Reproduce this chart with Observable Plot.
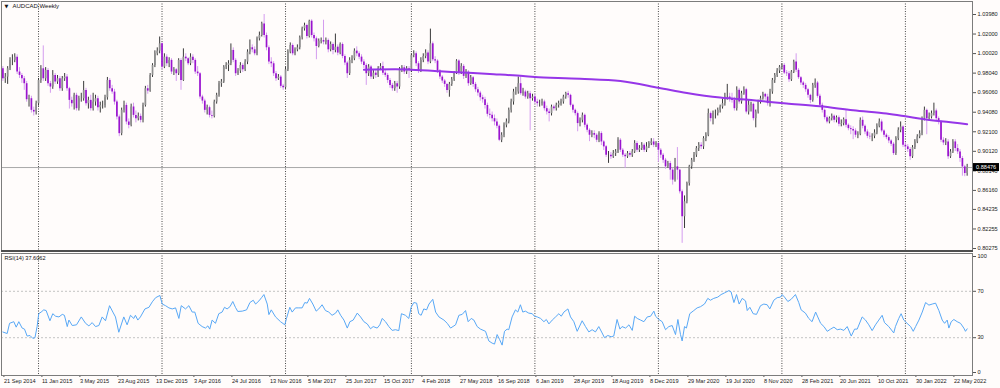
<!DOCTYPE html>
<html><head><meta charset="utf-8">
<script src="https://cdn.jsdelivr.net/npm/d3@7"></script>
<script src="https://cdn.jsdelivr.net/npm/@observablehq/plot@0.6"></script>
<style>
html,body{margin:0;padding:0;background:#fffcfb;}
#chart{position:relative;width:1000px;height:388px;overflow:hidden;background:#fffcfb;}
#chart svg{position:absolute;left:0;display:block;}
#sep{position:absolute;left:1px;top:250px;width:972px;height:2px;background:#4e4e4e;}
</style></head><body><div id="chart"></div>
<script>
// ---------- data (weekly AUDCAD, 21 Sep 2014 .. 2022) ----------
const symbolTitle = "AUDCAD,Weekly";
const rsiTitle = "RSI(14) 37.6062";
const firstOpen = 0.9848;
const closes = [
0.9747,0.9764,0.9848,0.9933,0.9933,0.9966,0.9815,0.9781,0.9747,0.9697,
0.9535,0.9545,0.9427,0.9410,0.9494,0.9730,0.9848,0.9747,0.9831,0.9697,
0.9663,0.9781,0.9714,0.9747,0.9646,0.9747,0.9764,0.9646,0.9528,0.9494,
0.9579,0.9444,0.9545,0.9545,0.9629,0.9494,0.9528,0.9444,0.9511,0.9545,
0.9454,0.9477,0.9477,0.9555,0.9730,0.9646,0.9612,0.9511,0.9360,0.9191,
0.9427,0.9477,0.9309,0.9275,0.9461,0.9376,0.9343,0.9366,0.9326,0.9477,
0.9646,0.9622,0.9781,0.9882,1.0000,1.0027,1.0101,0.9865,0.9966,0.9899,
0.9933,0.9815,0.9838,0.9798,0.9933,0.9730,0.9966,0.9949,0.9899,0.9966,
0.9933,0.9815,0.9798,0.9562,0.9521,0.9427,0.9454,0.9376,0.9366,0.9511,
0.9579,0.9697,0.9714,0.9865,0.9882,0.9899,1.0034,0.9933,0.9798,0.9825,
0.9882,0.9838,0.9916,1.0017,1.0061,1.0040,1.0000,1.0152,1.0185,1.0303,
1.0185,1.0061,0.9916,0.9899,0.9798,0.9747,0.9764,0.9670,0.9656,0.9838,
1.0017,1.0084,1.0000,1.0040,1.0061,1.0162,1.0253,1.0286,1.0175,1.0330,
1.0185,1.0152,1.0074,1.0128,1.0135,1.0118,1.0135,1.0040,1.0094,1.0034,
1.0067,1.0007,1.0094,0.9973,0.9906,0.9798,0.9933,0.9949,1.0027,1.0000,
0.9966,0.9916,0.9882,0.9798,0.9865,0.9764,0.9804,0.9781,0.9848,0.9872,
0.9804,0.9781,0.9730,0.9680,0.9646,0.9697,0.9663,0.9838,0.9858,0.9815,
0.9848,0.9831,0.9983,1.0000,0.9899,0.9831,0.9933,0.9973,1.0007,0.9916,
1.0101,0.9939,0.9926,0.9825,0.9764,0.9724,0.9690,0.9629,0.9690,0.9737,
0.9804,0.9926,0.9804,0.9872,0.9771,0.9815,0.9697,0.9757,0.9690,0.9636,
0.9602,0.9555,0.9535,0.9477,0.9387,0.9377,0.9343,0.9310,0.9266,0.9124,
0.9175,0.9276,0.9310,0.9428,0.9512,0.9613,0.9613,0.9697,0.9596,0.9613,
0.9562,0.9596,0.9545,0.9562,0.9512,0.9495,0.9495,0.9512,0.9444,0.9411,
0.9394,0.9461,0.9444,0.9478,0.9495,0.9512,0.9562,0.9596,0.9579,0.9478,
0.9428,0.9394,0.9293,0.9326,0.9377,0.9276,0.9225,0.9175,0.9192,0.9175,
0.9124,0.9192,0.9107,0.9057,0.8973,0.8973,0.8956,0.8989,0.9006,0.9124,
0.9023,0.8973,0.8956,0.8989,0.8973,0.9006,0.9091,0.9023,0.9040,0.9074,
0.9023,0.9057,0.9091,0.9107,0.9074,0.9091,0.9023,0.8973,0.8922,0.8855,
0.8888,0.8821,0.8720,0.8855,0.8821,0.8602,0.8349,0.8501,0.8686,0.8855,
0.8922,0.8973,0.9040,0.9074,0.9057,0.9141,0.9175,0.9394,0.9343,0.9394,
0.9394,0.9428,0.9461,0.9495,0.9562,0.9562,0.9545,0.9528,0.9444,0.9630,
0.9512,0.9596,0.9636,0.9410,0.9478,0.9488,0.9343,0.9410,0.9512,0.9545,
0.9589,0.9562,0.9495,0.9613,0.9731,0.9781,0.9825,0.9865,0.9882,0.9805,
0.9798,0.9737,0.9815,0.9916,0.9832,0.9758,0.9704,0.9680,0.9636,0.9579,
0.9528,0.9680,0.9704,0.9569,0.9478,0.9427,0.9353,0.9309,0.9343,0.9367,
0.9326,0.9353,0.9286,0.9293,0.9333,0.9276,0.9242,0.9232,0.9218,0.9175,
0.9185,0.9326,0.9266,0.9208,0.9164,0.9158,0.9164,0.9198,0.9266,0.9309,
0.9218,0.9175,0.9151,0.9117,0.9084,0.8989,0.9141,0.9225,0.9259,0.9073,
0.9057,0.9030,0.8956,0.9050,0.9107,0.9158,0.9191,0.9343,0.9427,0.9343,
0.9360,0.9394,0.9421,0.9343,0.9309,0.9124,0.9097,0.9107,0.8956,0.9006,
0.9107,0.9040,0.9006,0.8939,0.8854,0.8787,0.88476];
const highs = [
0.9870,0.9800,0.9870,0.9960,0.9990,1.0000,0.9990,0.9860,0.9800,0.9770,
0.9720,0.9580,0.9570,0.9460,0.9520,0.9750,0.9880,1.0080,0.9860,0.9850,
0.9720,0.9830,0.9800,0.9780,0.9770,0.9770,0.9800,0.9790,0.9660,0.9560,
0.9600,0.9600,0.9570,0.9600,0.9720,0.9650,0.9560,0.9580,0.9600,0.9580,
0.9570,0.9510,0.9520,0.9580,0.9760,0.9750,0.9680,0.9640,0.9530,0.9380,
0.9450,0.9520,0.9500,0.9340,0.9490,0.9500,0.9420,0.9400,0.9390,0.9500,
0.9670,0.9680,0.9800,0.9900,1.0030,1.0060,1.0170,1.0110,1.0000,0.9990,
0.9960,0.9950,0.9860,0.9850,0.9950,0.9950,1.0050,1.0000,0.9960,1.0000,
0.9990,0.9950,0.9870,0.9810,0.9580,0.9540,0.9480,0.9470,0.9420,0.9530,
0.9600,0.9720,0.9740,0.9880,0.9910,0.9930,1.0100,1.0060,0.9950,0.9850,
0.9910,0.9900,0.9940,1.0040,1.0140,1.0090,1.0070,1.0170,1.0220,1.0320,
1.0398,1.0210,1.0080,0.9960,0.9920,0.9820,0.9790,0.9780,0.9690,0.9860,
1.0040,1.0110,1.0100,1.0060,1.0090,1.0180,1.0270,1.0310,1.0300,1.0340,
1.0345,1.0210,1.0170,1.0150,1.0160,1.0340,1.0160,1.0150,1.0120,1.0110,
1.0200,1.0090,1.0110,1.0110,0.9990,0.9920,0.9960,0.9980,1.0050,1.0070,
1.0020,0.9990,0.9940,0.9900,0.9890,0.9880,0.9830,0.9830,0.9870,0.9900,
0.9916,0.9830,0.9800,0.9750,0.9700,0.9720,0.9720,0.9860,0.9880,0.9880,
0.9870,0.9870,1.0000,1.0030,1.0020,0.9920,0.9960,1.0000,1.0040,1.0030,
1.0250,1.0120,0.9970,0.9940,0.9840,0.9780,0.9740,0.9700,0.9710,0.9760,
0.9820,0.9940,0.9940,0.9900,0.9890,0.9840,0.9830,0.9780,0.9770,0.9710,
0.9660,0.9620,0.9580,0.9560,0.9500,0.9440,0.9410,0.9380,0.9340,0.9280,
0.9200,0.9300,0.9340,0.9450,0.9540,0.9640,0.9660,0.9765,0.9780,0.9650,
0.9630,0.9620,0.9620,0.9590,0.9590,0.9540,0.9530,0.9540,0.9530,0.9470,
0.9440,0.9480,0.9480,0.9500,0.9520,0.9540,0.9580,0.9610,0.9620,0.9590,
0.9490,0.9440,0.9410,0.9350,0.9400,0.9390,0.9290,0.9240,0.9220,0.9220,
0.9190,0.9210,0.9210,0.9120,0.9070,0.9010,0.9000,0.9020,0.9030,0.9150,
0.9140,0.9040,0.8990,0.9010,0.9010,0.9030,0.9120,0.9110,0.9070,0.9100,
0.9090,0.9100,0.9110,0.9140,0.9140,0.9110,0.9100,0.9040,0.8990,0.8940,
0.8910,0.8910,0.8840,0.8940,0.9050,0.8830,0.8620,0.8560,0.8700,0.8870,
0.8940,0.9000,0.9060,0.9100,0.9100,0.9160,0.9200,0.9440,0.9410,0.9420,
0.9430,0.9450,0.9480,0.9540,0.9600,0.9690,0.9600,0.9600,0.9560,0.9665,
0.9650,0.9620,0.9665,0.9650,0.9530,0.9510,0.9500,0.9430,0.9530,0.9570,
0.9610,0.9600,0.9590,0.9640,0.9750,0.9800,0.9850,0.9880,0.9900,0.9900,
0.9830,0.9820,0.9830,0.9935,1.0000,0.9850,0.9770,0.9720,0.9700,0.9650,
0.9590,0.9700,0.9745,0.9720,0.9590,0.9500,0.9440,0.9370,0.9360,0.9390,
0.9380,0.9370,0.9370,0.9330,0.9350,0.9430,0.9290,0.9270,0.9260,0.9240,
0.9210,0.9350,0.9360,0.9280,0.9230,0.9200,0.9190,0.9230,0.9290,0.9340,
0.9330,0.9230,0.9190,0.9170,0.9130,0.9100,0.9160,0.9250,0.9310,0.9270,
0.9100,0.9080,0.9050,0.9070,0.9130,0.9180,0.9220,0.9360,0.9460,0.9440,
0.9400,0.9420,0.9500,0.9440,0.9360,0.9320,0.9150,0.9140,0.9130,0.9030,
0.9130,0.9130,0.9080,0.9030,0.8960,0.8870,0.8880];
const lows = [
0.9720,0.9700,0.9690,0.9830,0.9880,0.9910,0.9790,0.9750,0.9700,0.9630,
0.9510,0.9460,0.9400,0.9370,0.9380,0.9470,0.9700,0.9720,0.9720,0.9670,
0.9600,0.9640,0.9690,0.9690,0.9620,0.9620,0.9720,0.9620,0.9440,0.9460,
0.9430,0.9420,0.9420,0.9510,0.9520,0.9470,0.9440,0.9420,0.9420,0.9470,
0.9420,0.9400,0.9440,0.9450,0.9530,0.9620,0.9590,0.9480,0.9330,0.9160,
0.9170,0.9400,0.9280,0.9240,0.9260,0.9350,0.9300,0.9320,0.9300,0.9300,
0.9460,0.9590,0.9610,0.9760,0.9860,0.9980,1.0000,0.9840,0.9850,0.9870,
0.9860,0.9790,0.9780,0.9720,0.9780,0.9630,0.9720,0.9920,0.9880,0.9880,
0.9900,0.9790,0.9770,0.9540,0.9490,0.9400,0.9380,0.9350,0.9340,0.9350,
0.9490,0.9560,0.9660,0.9700,0.9840,0.9820,0.9880,0.9910,0.9770,0.9780,
0.9800,0.9810,0.9820,0.9890,0.9990,1.0010,0.9980,0.9980,1.0130,1.0170,
1.0160,1.0030,0.9890,0.9860,0.9770,0.9720,0.9730,0.9650,0.9630,0.9640,
0.9820,1.0000,0.9980,0.9980,1.0020,1.0040,1.0140,1.0230,1.0150,1.0160,
1.0160,1.0120,0.9940,1.0060,1.0100,1.0090,1.0090,1.0010,1.0020,0.9990,
1.0010,0.9980,0.9990,0.9950,0.9880,0.9750,0.9780,0.9900,0.9930,0.9970,
0.9940,0.9890,0.9850,0.9680,0.9770,0.9740,0.9740,0.9750,0.9760,0.9830,
0.9780,0.9760,0.9700,0.9650,0.9620,0.9620,0.9600,0.9640,0.9810,0.9790,
0.9790,0.9750,0.9810,0.9960,0.9870,0.9800,0.9810,0.9910,0.9950,0.9890,
0.9900,0.9920,0.9900,0.9800,0.9740,0.9700,0.9660,0.9600,0.9560,0.9670,
0.9720,0.9790,0.9780,0.9790,0.9740,0.9750,0.9670,0.9680,0.9660,0.9610,
0.9570,0.9520,0.9500,0.9440,0.9360,0.9340,0.9310,0.9270,0.9240,0.9110,
0.9100,0.9150,0.9250,0.9290,0.9400,0.9480,0.9580,0.9590,0.9580,0.9570,
0.9540,0.9540,0.9220,0.9520,0.9490,0.9460,0.9460,0.9470,0.9420,0.9380,
0.9310,0.9370,0.9420,0.9420,0.9450,0.9470,0.9490,0.9540,0.9550,0.9460,
0.9400,0.9370,0.9210,0.9260,0.9300,0.9250,0.9200,0.9110,0.9150,0.9140,
0.9100,0.9100,0.9070,0.9020,0.8950,0.8890,0.8930,0.8940,0.8960,0.8990,
0.9000,0.8950,0.8840,0.8940,0.8950,0.8950,0.8990,0.9000,0.9000,0.9020,
0.9000,0.9000,0.9040,0.9070,0.9050,0.9050,0.8900,0.8940,0.8890,0.8830,
0.8840,0.8720,0.8670,0.8700,0.8720,0.8580,0.8080,0.8230,0.8480,0.8660,
0.8830,0.8900,0.8950,0.9010,0.9030,0.9030,0.9110,0.9160,0.9310,0.9280,
0.9340,0.9370,0.9400,0.9440,0.9470,0.9530,0.9510,0.9500,0.9420,0.9420,
0.9490,0.9490,0.9580,0.9390,0.9380,0.9410,0.9320,0.9250,0.9390,0.9490,
0.9530,0.9530,0.9470,0.9460,0.9590,0.9700,0.9760,0.9800,0.9840,0.9790,
0.9770,0.9710,0.9720,0.9800,0.9810,0.9740,0.9680,0.9650,0.9610,0.9550,
0.9495,0.9510,0.9650,0.9550,0.9460,0.9400,0.9330,0.9290,0.9290,0.9320,
0.9300,0.9300,0.9260,0.9260,0.9270,0.9250,0.9220,0.9180,0.9130,0.9150,
0.9140,0.9170,0.9240,0.9180,0.9140,0.9130,0.9110,0.9140,0.9180,0.9250,
0.9200,0.9150,0.9130,0.9090,0.9060,0.8970,0.8970,0.9120,0.9200,0.9050,
0.9030,0.9000,0.8920,0.8940,0.9030,0.9090,0.9140,0.9170,0.9320,0.9180,
0.9320,0.9340,0.9370,0.9320,0.9280,0.9100,0.9070,0.9070,0.8930,0.8940,
0.8990,0.9010,0.8980,0.8900,0.8760,0.8755,0.8760];
// long moving average (read points: bar index, value)
const maBar   = [152,170,184,198,205,219,224,243,260,276,288,302,316,323,330,344,358,372,380,388,406];
const maValue = [0.9839,0.9842,0.9822,0.9805,0.9795,0.9775,0.9764,0.9747,0.9724,0.9657,0.9603,0.9556,0.9529,0.9512,0.9496,0.9468,0.9428,0.9395,0.9367,0.9336,0.9287];
// RSI(14) read vertices (bar position, value)
const rsiBar = [0,1.8,2.8,4.6,5.6,6.7,8.1,9.1,10.2,11.4,12.6,13.5,14.4,15.1,16.1,17.2,18.2,19.8,21.0,22.2,
23.6,25.0,25.9,27.1,27.8,29.2,31.0,33.0,34.8,36.2,37.6,39.0,40.4,41.8,43.2,44.9,46.3,47.4,48.8,50.9,
52.3,53.7,55.1,55.8,56.8,57.9,59.8,61.5,62.9,64.3,66.1,67.1,68.5,69.9,71.3,72.7,74.1,75.1,76.9,78.3,
79.7,80.8,82.2,83.9,85.3,86.3,87.1,88.1,89.5,90.9,92.3,93.3,94.4,95.6,96.8,97.9,98.9,100.8,102.6,104.0,
105.4,106.4,107.8,108.9,109.9,111.3,112.0,113.0,114.8,116.9,118.7,119.4,120.8,121.8,123.2,124.6,126.0,127.1,128.1,129.1,
130.5,131.9,133.0,134.4,135.8,137.2,138.6,140.1,141.0,142.2,143.6,145.0,146.1,147.5,149.2,150.6,152.0,153.4,154.8,155.9,
157.6,158.7,159.7,161.1,162.5,163.9,165.3,166.7,167.8,169.5,170.9,171.9,173.0,174.2,175.1,176.1,177.2,178.4,179.4,181.0,
182.2,183.6,185.7,187.1,188.5,190.6,192.0,193.4,194.8,195.9,197.2,198.3,199.7,
201.1,203.2,204.6,206.0,207.0,208.1,209.1,210.2,211.2,212.3,213.0,214.4,215.8,216.8,217.9,218.9,220.0,221.4,222.9,223.8,
225.0,226.4,227.8,228.8,229.9,231.3,232.7,234.1,235.1,236.2,237.9,239.0,240.4,241.8,243.9,245.3,246.7,248.1,249.5,250.9,
252.3,253.3,254.7,256.1,257.2,258.6,259.8,260.7,262.2,263.6,265.0,266.0,267.1,268.5,269.9,271.3,272.7,274.1,274.8,276.2,
277.6,279.0,280.4,281.8,283.2,284.2,285.3,286.0,287.0,287.8,289.2,290.9,292.3,293.7,295.4,296.8,297.9,299.3,301.0,302.4,
303.8,305.7,306.6,307.8,308.9,310.0,311.3,312.7,313.4,314.5,315.9,317.3,319.0,320.4,321.8,322.9,324.6,326.0,327.4,328.1,
329.1,330.5,331.9,333.7,335.1,336.1,337.9,339.3,340.7,342.2,343.1,344.3,345.7,347.1,348.5,349.9,351.3,352.7,354.1,355.5,
357.2,358.6,359.7,361.8,363.2,364.6,366.0,367.4,368.8,370.2,371.2,373.0,375.1,375.8,377.2,378.2,379.3,380.7,382.2,383.3,
384.3,385.7,387.1,388.5,389.9,391.3,392.7,394.1,395.5,396.5,397.6,398.3,399.3,400.4,401.8,403.2,404.6,405.3,406.0];
const rsiValue = [34.9,33.6,42.4,43.8,39.1,43.8,38.3,37.4,31.4,31.9,29.4,30.0,39.6,50.7,52.1,54.0,53.4,44.6,50.7,48.5,
47.9,50.1,49.3,39.6,45.2,40.5,41.1,47.9,42.4,40.2,43.0,39.6,40.5,47.9,44.6,57.6,52.1,47.9,34.7,47.9,
41.1,49.3,46.6,49.3,45.2,47.9,54.8,56.2,60.9,64.5,66.4,59.0,57.6,55.7,54.8,55.7,46.6,57.6,54.8,57.6,
52.1,52.1,42.4,39.6,38.3,40.2,37.4,45.2,42.4,50.7,52.1,56.2,54.8,56.7,61.2,56.2,52.6,52.9,54.0,60.3,
62.3,59.0,61.7,64.5,67.2,59.0,49.9,54.0,47.9,43.8,41.1,46.6,56.2,52.1,55.7,55.7,55.7,60.3,59.8,63.9,
59.0,52.9,54.8,58.4,53.4,52.1,49.3,51.2,54.0,49.3,45.2,38.3,43.8,45.2,51.2,47.9,43.8,41.9,37.7,39.6,
38.3,41.1,46.6,43.8,39.6,36.3,36.9,36.1,50.7,49.3,46.6,56.2,60.3,59.8,50.7,49.3,54.8,54.0,59.0,63.1,
52.1,47.9,45.2,42.4,38.3,41.1,49.3,50.1,53.4,43.8,46.6,45.2,39.6,
37.4,35.5,27.2,25.3,24.5,32.7,28.6,23.6,35.5,37.4,36.9,47.9,54.0,52.1,58.4,52.1,52.9,51.2,50.7,48.5,
47.9,46.6,43.8,45.7,41.9,45.2,47.9,50.7,48.5,52.1,54.8,47.9,43.8,35.5,44.6,39.6,35.0,36.9,35.0,39.6,
34.1,30.0,31.9,30.8,31.4,45.7,37.4,39.6,38.3,41.1,36.3,48.5,46.6,45.2,43.8,47.9,48.5,52.9,48.5,45.7,
43.8,36.9,39.6,40.5,32.7,45.7,32.7,27.2,39.6,38.3,50.7,53.4,55.7,56.7,59.0,63.9,62.3,63.9,65.0,67.2,
68.6,70.6,69.5,60.3,67.2,59.0,63.9,61.7,53.4,56.2,50.7,50.1,57.6,59.0,58.4,54.8,62.3,64.5,65.0,67.2,
65.0,61.2,63.1,67.2,60.3,54.0,51.2,46.6,43.8,52.1,47.9,42.4,39.6,35.5,37.4,39.1,36.9,37.4,36.3,39.6,
31.4,37.4,37.4,47.9,45.2,41.1,36.1,41.1,45.2,49.3,43.0,39.6,34.1,39.6,46.6,50.7,45.2,42.4,39.6,35.5,
39.6,45.2,52.1,60.3,58.1,59.0,59.8,53.4,45.2,42.4,45.2,38.3,43.8,45.7,43.8,42.4,38.3,35.5,37.6];
const priceTicks = [1.0398,1.0200,1.0002,0.9804,0.9606,0.9408,0.9210,0.9012,0.8814,0.8616,0.84235,0.82255,0.80275];
const rsiTicks = [100,70,30,0];
const rsiLevels = [70,30];
const tickBars = [0,16,32,48,64,80,96,112,128,144,160,176,192,208,224,240,256,272,288,304,320,336,352,368,384,400];
const tickLabels = ["21 Sep 2014","11 Jan 2015","3 May 2015","23 Aug 2015","13 Dec 2015","3 Apr 2016","24 Jul 2016","13 Nov 2016","5 Mar 2017","25 Jun 2017","15 Oct 2017","4 Feb 2018","27 May 2018","16 Sep 2018","6 Jan 2019","28 Apr 2019","18 Aug 2019","8 Dec 2019","29 Mar 2020","19 Jul 2020","8 Nov 2020","28 Feb 2021","20 Jun 2021","10 Oct 2021","30 Jan 2022","22 May 2022"];
const yearStartBars = [15,67,119,172,224,276,328,380];

// ---------- build ----------
const n = Math.min(closes.length, highs.length, lows.length);
const bars = [];
for (let i = 0; i < n; i++) {
  const o = i === 0 ? firstOpen : closes[i-1], c = closes[i];
  bars.push({i, open:o, close:c, high:Math.max(highs[i],o,c), low:Math.min(lows[i],o,c), up: c >= o});
}
const upBars = bars.filter(d => d.up), downBars = bars.filter(d => !d.up);
const maPts = maBar.map((b,k) => ({b, v: maValue[k]}));
const rsiPts = rsiBar.slice(0, Math.min(rsiBar.length, rsiValue.length)).map((b,k) => ({b, v: rsiValue[k]}));
const lastPrice = closes[n-1];

const W = 1000, MR = 28;
const xDomain = [0, n-1], xRange = [2.4, 2.4 + 2.375*(n-1)];
const font = "'Liberation Sans', Arial, sans-serif";
const bg = "#fffcfb";
const axisColor = "#1a1a1a";
const sepColor = "#4a4a4a";

const main = Plot.plot({
  width: W, height: 252, marginLeft: 1, marginRight: MR, marginTop: 1, marginBottom: 2,
  style: {background: bg, fontFamily: font, fontSize: "5.6px", color: axisColor, overflow: "visible"},
  x: {domain: xDomain, range: xRange, axis: null},
  y: {domain: [0.80275, 1.0398], range: [248, 14], axis: null},
  marks: [
    Plot.ruleX(yearStartBars, {stroke: sepColor, strokeDasharray: "1,1.5", strokeWidth: 1}),
    Plot.ruleY([lastPrice], {stroke: "#a9a9a9", strokeWidth: 1}),
    Plot.ruleX(upBars, {x: "i", y1: "low", y2: "high", stroke: "#3a3a3a", strokeWidth: 1}),
    Plot.ruleX(downBars, {x: "i", y1: "low", y2: "high", stroke: "#d49cef", strokeWidth: 1}),
    Plot.ruleX(upBars, {x: "i", y1: "open", y2: "close", stroke: "#8e8e8e", strokeWidth: 1.7}),
    Plot.ruleX(downBars, {x: "i", y1: "open", y2: "close", stroke: "#9a14cf", strokeWidth: 1.7}),
    Plot.line(maPts, {x: "b", y: "v", stroke: "#9636e8", strokeWidth: 2, curve: "catmull-rom"}),
    Plot.axisY(priceTicks, {anchor: "right", label: null, tickSize: 3, tickPadding: 2, tickFormat: d => d.toFixed(5), fontSize: 5.6, stroke: "#555"}),
    Plot.frame({stroke: "#7c7c7c"}),
    Plot.text(["\u25BC"], {frameAnchor: "top-left", dx: 3, dy: 5, textAnchor: "start", lineAnchor: "middle", fontSize: 5, fill: "#111", fontFamily: "'DejaVu Sans', sans-serif"}),
    Plot.text([symbolTitle], {frameAnchor: "top-left", dx: 11, dy: 5, textAnchor: "start", lineAnchor: "middle", fontSize: 6, fill: "#111"})
  ]
});
main.style.top = "0px";

const rsi = Plot.plot({
  width: W, height: 136, marginLeft: 1, marginRight: MR, marginTop: 1, marginBottom: 13,
  style: {background: bg, fontFamily: font, fontSize: "5.6px", color: axisColor, overflow: "visible"},
  x: {domain: xDomain, range: xRange},
  y: {domain: [0, 100], range: [120, 4]},
  marks: [
    Plot.ruleY(rsiLevels, {stroke: "#c4c4c4", strokeDasharray: "2,2"}),
    Plot.ruleX(yearStartBars, {stroke: sepColor, strokeDasharray: "1,1.5", strokeWidth: 1}),
    Plot.line(rsiPts, {x: "b", y: "v", stroke: "#58a8f6", strokeWidth: 1}),
    Plot.axisY(rsiTicks, {anchor: "right", label: null, tickSize: 3, tickPadding: 2, fontSize: 5.6, stroke: "#555"}),
    Plot.axisX(tickBars, {anchor: "bottom", label: null, tickSize: 2, tickPadding: 2, textAnchor: "start", dx: 1,
      tickFormat: b => tickLabels[tickBars.indexOf(b)], fontSize: 5.6, stroke: "#555"}),
    Plot.frame({stroke: "#7c7c7c"}),
    Plot.text([rsiTitle], {frameAnchor: "top-left", dx: 3, dy: 5, textAnchor: "start", lineAnchor: "middle", fontSize: 5.6, fill: "#111"})
  ]
});
rsi.style.top = "252px";

const chart = document.getElementById("chart");
chart.appendChild(main);
chart.appendChild(rsi);
const sep = document.createElement("div"); sep.id = "sep"; chart.appendChild(sep);

// current price label box on the price axis
const yPix = main.scale("y").apply(lastPrice);
const g = d3.select(main).append("g").attr("text-anchor", "start");
g.append("rect").attr("x", 973).attr("y", yPix - 4).attr("width", 26).attr("height", 8).attr("fill", "#000");
g.append("text").attr("x", 976).attr("y", yPix).attr("dy", "0.35em").attr("text-anchor", "start")
  .attr("fill", "#fff").attr("font-size", 5.6).attr("font-family", font).text(lastPrice.toFixed(5));
</script></body></html>
